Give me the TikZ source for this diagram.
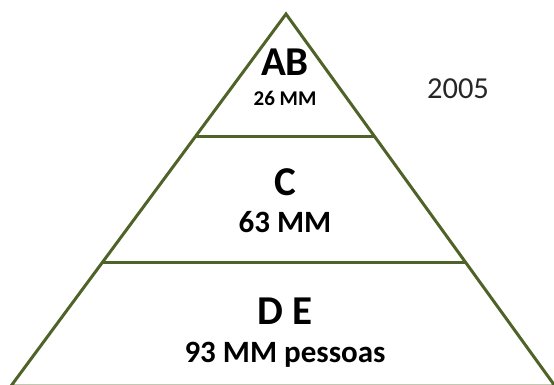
\documentclass[tikz,border=0pt]{standalone}
\usepackage{fontspec}
\setmainfont{Carlito}
\definecolor{olive}{HTML}{4F6228}
\definecolor{yeargray}{HTML}{262626}
\tikzset{
  edge/.style={draw=olive, line width=3pt, line join=miter},
  big/.style={anchor=base, inner sep=0pt, font=\fontsize{41}{41}\selectfont\bfseries},
  small/.style={anchor=base, inner sep=0pt, font=\fontsize{31}{31}\selectfont\bfseries},
  tiny/.style={anchor=base, inner sep=0pt, font=\fontsize{21}{21}\selectfont\bfseries},
  year/.style={anchor=base, inner sep=0pt, text=yeargray, font=\fontsize{30.5}{30.5}\selectfont}
}
\begin{document}
\begin{tikzpicture}[x=1pt, y=-1pt]
\useasboundingbox (0,0) rectangle (554,385);
\clip (0,0) rectangle (554,385);
\coordinate (apex) at (286,14);
\coordinate (l1) at (195,137);
\coordinate (r1) at (375,137);
\coordinate (l2) at (102.5,262);
\coordinate (r2) at (465.5,262);
\coordinate (bl) at (11,386);
\coordinate (br) at (555,386);
\draw[edge] (apex) -- (br) -- (bl) -- cycle;
\draw[edge] (l1) -- (r1);
\draw[edge] (l2) -- (r2);
\node[big] (ab) at (285,76) {AB};
\node[tiny] (abn) at (285,106) {26 MM};
\node[big] (c) at (285,195) {C};
\node[small] (cn) at (285,232) {63 MM};
\node[big] (de) at (285,324) {D E};
\node[small] (den) at (285,362) {93 MM pessoas};
\node[year] (yr) at (458,99) {2005};
\end{tikzpicture}
\end{document}
